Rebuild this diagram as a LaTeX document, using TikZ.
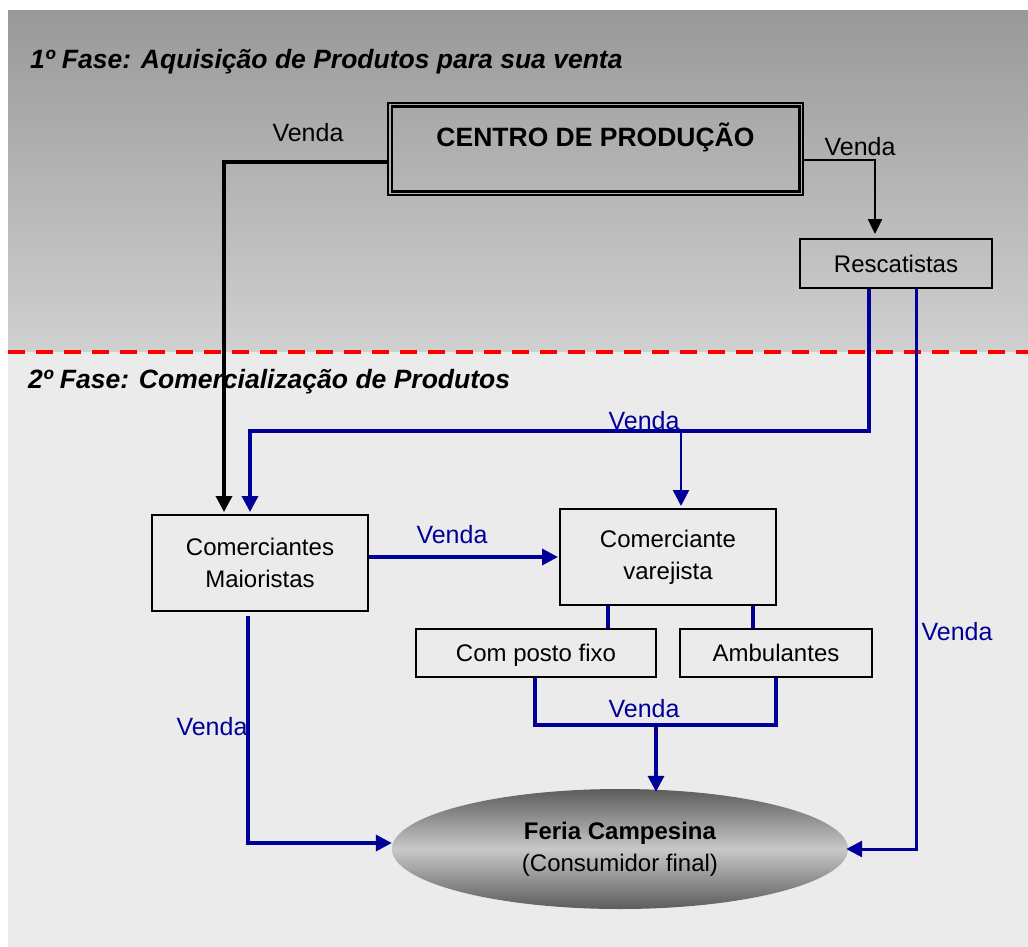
\documentclass[tikz,border=0pt]{standalone}
\usepackage{fontspec}
\setmainfont{Liberation Sans}
\usetikzlibrary{arrows.meta,shapes.geometric,calc}
\definecolor{navy}{RGB}{0,0,153}
\definecolor{topgray}{RGB}{153,153,153}
\definecolor{midgray}{RGB}{208,208,208}
\definecolor{lowgray}{RGB}{235,235,235}
\definecolor{elldark}{RGB}{92,92,92}
\definecolor{elllight}{RGB}{200,200,200}
\tikzset{
  boxnode/.style={draw=black, line width=2pt, inner sep=0pt, align=center,
    font=\fontsize{24}{32}\selectfont},
  onebox/.style={boxnode, text height=17pt, text depth=0pt},
  blkline/.style={draw=black, line width=3.5pt},
  blkarrow/.style={blkline, -{Triangle[width=16pt,length=16pt]}},
  blueline/.style={draw=navy, line width=3.5pt},
  bluearrow/.style={blueline, -{Triangle[width=16pt,length=16pt]}},
  vendablk/.style={font=\fontsize{25}{30}\selectfont, text=black, inner sep=0pt},
  vendablue/.style={font=\fontsize{25}{30}\selectfont, text=navy, inner sep=0pt},
  titletext/.style={font=\fontsize{26.5}{30}\selectfont\bfseries\itshape, anchor=base west, inner sep=0pt},
}
\begin{document}
\begin{tikzpicture}[x=1pt,y=-1pt]
\useasboundingbox (0,0) rectangle (1028,947);
% backgrounds
\shade[top color=topgray, bottom color=midgray] (8,11) rectangle (1028,352);
\fill[lowgray] (8,352) rectangle (1028,947);
\coordinate (dl) at (8,352);
\coordinate (dr) at (1028,352);
\draw[red, line width=4pt, dash pattern=on 17pt off 11pt] (dl) -- (dr);
% titles
\node[titletext] (t1) at (30,69) {1º Fase: Aquisição de Produtos para sua venta};
\node[titletext] (t2) at (28,388) {2º Fase: Comercialização de Produtos};
% nodes
\node[draw=black, line width=2.5pt, minimum width=415pt, minimum height=92pt, inner sep=0pt,
  label={[font=\fontsize{26.5}{30}\selectfont\bfseries, yshift=12pt]center:CENTRO DE PRODUÇÃO}]
  (centro) at (595.5,149) {};
\draw[line width=2.5pt] ([xshift=5pt,yshift=-5pt]centro.north west) rectangle ([xshift=-5pt,yshift=5pt]centro.south east);
\node[onebox, minimum width=192pt, minimum height=49pt] (resc) at (896,263.5) {Rescatistas};
\node[boxnode, minimum width=216pt, minimum height=96pt] (maior) at (260,563) {Comerciantes\\Maioristas};
\node[boxnode, minimum width=216pt, minimum height=96pt] (vare) at (668,557) {Comerciante\\varejista};
\node[onebox, minimum width=240pt, minimum height=48pt] (posto) at (536,653) {Com posto fixo};
\node[onebox, minimum width=192pt, minimum height=48pt] (amb) at (776,653) {Ambulantes};
\node[ellipse, minimum width=456pt, minimum height=120pt, inner sep=0pt,
  top color=elldark, bottom color=elldark, middle color=elllight, align=center,
  font=\fontsize{24}{32}\selectfont] (feria) at (620,849)
  {\textbf{Feria Campesina}\\(Consumidor final)};
% labels
\node[vendablk] (v1) at (308,133) {Venda};
\node[vendablk] (v2) at (860,147) {Venda};
\node[vendablue] (v3) at (644,421) {Venda};
\node[vendablue] (v4) at (452,535) {Venda};
\node[vendablue] (v5) at (644,709) {Venda};
\node[vendablue] (v6) at (212,727) {Venda};
\node[vendablue] (v7) at (957,632) {Venda};
% black connectors
\draw[blkarrow] ([yshift=-13pt]centro.west) -| ([xshift=-36pt,yshift=2pt]maior.north);
\draw[blkline, line width=2.5pt, -{Triangle[width=14pt,length=15pt]}]
  ([yshift=-11pt]centro.east) -| ([xshift=-21pt,yshift=4pt]resc.north);
% blue connectors from Rescatistas
\coordinate (r1) at ([xshift=-27pt]resc.south);
\coordinate (j1) at (r1 |- 0,431);
\draw[bluearrow] (r1) -- (j1) -| ([xshift=-10pt,yshift=2pt]maior.north);
\coordinate (j2) at ([xshift=13pt]vare.north |- j1);
\draw[bluearrow, line width=2.5pt] (j2) -- ([xshift=13pt,yshift=2pt]vare.north);
\draw[bluearrow, line width=3pt] ([xshift=20pt]resc.south) |- ([xshift=-2pt]feria.east);
% maioristas -> varejista
\draw[bluearrow] (maior.east |- vare.west) -- ([xshift=-1pt]vare.west);
% varejista -> sub boxes
\draw[blueline] ([xshift=-60pt]vare.south) -- ([xshift=-60pt]vare.south |- posto.north);
\draw[blueline] ([xshift=85pt]vare.south) -- ([xshift=85pt]vare.south |- amb.north);
% sub boxes -> feria
\coordinate (b1) at ([xshift=-1pt]posto.south);
\coordinate (b2) at (amb.south);
\draw[blueline] (b1) -- (b1 |- 0,725) -- (b2 |- 0,725) -- (b2);
\coordinate (b3) at ([xshift=36pt]feria.north |- 0,725);
\draw[bluearrow] (b3) -- ([xshift=36pt,yshift=-3pt]feria.north);
% maioristas -> feria
\draw[bluearrow] ([xshift=-12pt,yshift=-4pt]maior.south) |- ([yshift=6pt]feria.west);
\end{tikzpicture}
\end{document}
